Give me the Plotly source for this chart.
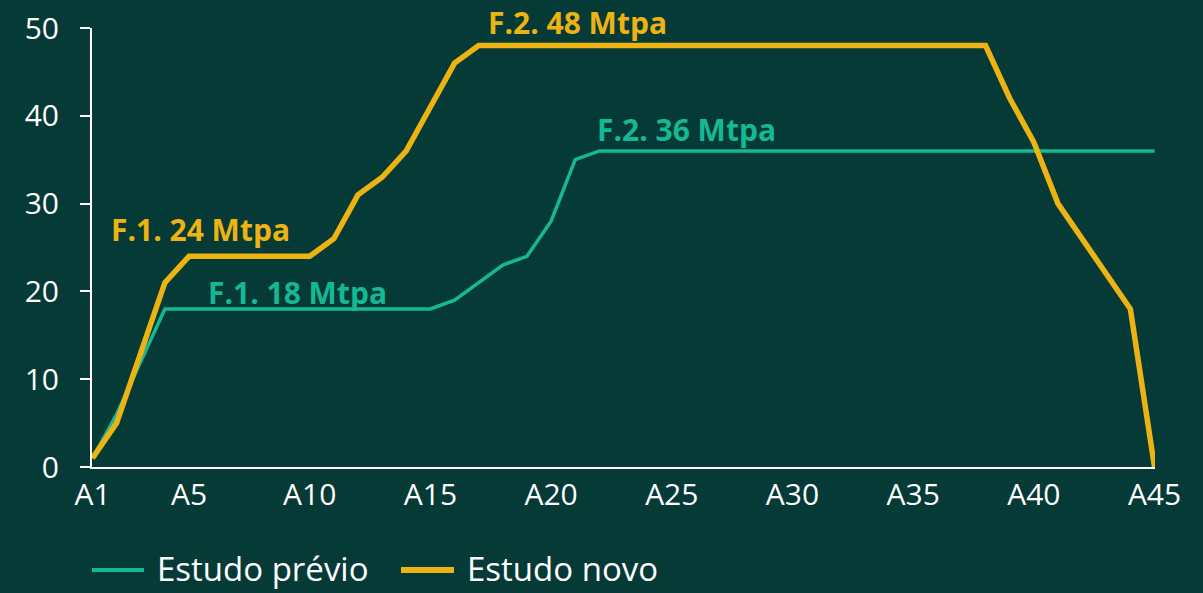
import plotly.graph_objects as go

periods = ["A" + str(i) for i in range(1, 46)]
estudo_previo = [1, 6, 12, 18, 18, 18, 18, 18, 18, 18, 18, 18, 18, 18, 18,
                 19, 21, 23, 24, 28, 35, 36, 36, 36, 36, 36, 36, 36, 36, 36,
                 36, 36, 36, 36, 36, 36, 36, 36, 36, 36, 36, 36, 36, 36, 36]
estudo_novo = [1, 5, 13, 21, 24, 24, 24, 24, 24, 24, 26, 31, 33, 36, 41,
               46, 48, 48, 48, 48, 48, 48, 48, 48, 48, 48, 48, 48, 48, 48,
               48, 48, 48, 48, 48, 48, 48, 48, 42, 37, 30, 26, 22, 18, 0]
tick_labels = ["A1", "A5", "A10", "A15", "A20", "A25", "A30", "A35", "A40", "A45"]

teal = "#14b894"
gold = "#edb312"
bg = "#053a36"
font = "Open Sans"
W, H = 1203, 593
L, R, T, B = 92, 48, 28, 126

fig = go.Figure()
fig.add_trace(go.Scatter(x=periods, y=estudo_previo, mode="lines", name="Estudo prévio",
                         line=dict(color=teal, width=3.5)))
fig.add_trace(go.Scatter(x=periods, y=estudo_novo, mode="lines", name="Estudo novo",
                         line=dict(color=gold, width=5.5)))

# label text, x (category index), y, yshift, colour
labels = [("F.1. 24 Mtpa", 4.47, 27, 0, gold),
          ("F.1. 18 Mtpa", 8.49, 19.9, 0, teal),
          ("F.2. 48 Mtpa", 20.1, 50, 6, gold),
          ("F.2. 36 Mtpa", 24.6, 38.4, 0, teal)]
for txt, xa, ya, ys, c in labels:
    fig.add_annotation(x=xa, y=ya, yshift=ys, text="<b>" + txt + "</b>", showarrow=False,
                       font=dict(family=font, size=30, color=c), yanchor="middle")


# hand-made legend below the plot (pixel -> paper coordinates)
def px(x):
    return (x - L) / (W - L - R)


def py(y):
    return (H - B - y) / (H - T - B)


legend_items = [("Estudo prévio", teal, 4, 92, 144, 155),
                ("Estudo novo", gold, 6, 401, 454, 465)]
for name, c, w, x0, x1, xt in legend_items:
    fig.add_shape(type="line", xref="paper", yref="paper", x0=px(x0), x1=px(x1),
                  y0=py(570), y1=py(570), line=dict(color=c, width=w))
    fig.add_annotation(xref="paper", yref="paper", x=px(xt), y=py(568), text=name,
                       showarrow=False, xanchor="left", yanchor="middle",
                       font=dict(family=font, size=33, color="white"))

fig.update_layout(
    width=W, height=H,
    paper_bgcolor=bg, plot_bgcolor=bg,
    margin=dict(l=L, r=R, t=T, b=B, autoexpand=False),
    font=dict(family=font, size=30, color="white"),
    showlegend=False,
)
fig.update_xaxes(type="category", range=[-0.02, 44.02], tickvals=tick_labels, ticktext=tick_labels,
                 showgrid=False, showline=True, linecolor="white", linewidth=2,
                 ticks="", tickfont=dict(size=30, color="white"), zeroline=False, automargin=False)
fig.update_yaxes(range=[0, 50], dtick=10, showgrid=False, showline=True, linecolor="white",
                 linewidth=2, ticks="outside", ticklen=10, tickcolor="white", tickwidth=2,
                 ticklabelstandoff=15,
                 tickfont=dict(size=30, color="white"), zeroline=False, automargin=False)

fig.write_html("out.html", config={"displayModeBar": False},
               post_script="document.body.style.margin='0';document.body.style.background='" + bg + "';")
